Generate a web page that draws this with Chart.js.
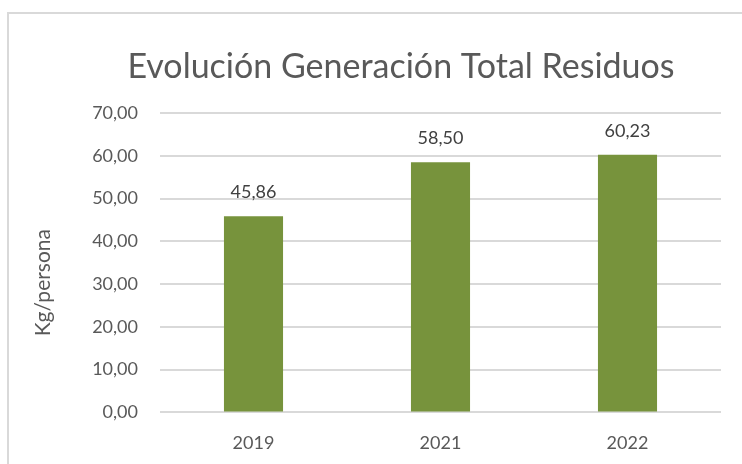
<!DOCTYPE html>
<html>
<head>
<meta charset="utf-8">
<script src="https://cdn.jsdelivr.net/npm/chart.js@4.4.1/dist/chart.umd.min.js"></script>
<style>
  html, body { margin: 0; padding: 0; background: #ffffff; overflow: hidden; }
  #wrap { position: relative; width: 742px; height: 464px; }
  #frame { position: absolute; left: 7px; top: 12px; width: 800px; height: 500px;
           border: 2px solid #d9d9d9; box-sizing: border-box; pointer-events: none; }
  canvas { position: absolute; left: 0; top: 0; }
</style>
</head>
<body>
<div id="wrap">
  <canvas id="c" width="742" height="464"></canvas>
  <div id="frame"></div>
</div>
<script>
const chartTitle = 'Evolución Generación Total Residuos';
const yAxisTitle = 'Kg/persona';
const categories = ['2019', '2021', '2022'];
const values = [45.86, 58.50, 60.23];
const yMin = 0, yMax = 70, yStep = 10;

const fmt = v => v.toFixed(2).replace('.', ',');
const FONT = 'Lato, "Open Sans", "DejaVu Sans", sans-serif';

const textPlugin = {
  id: 'customTexts',
  afterDraw(chart) {
    const ctx = chart.ctx;
    const ca = chart.chartArea;
    ctx.save();
    ctx.font = '400 34px ' + FONT;
    ctx.fillStyle = '#595959';
    ctx.textAlign = 'center';
    ctx.textBaseline = 'middle';
    ctx.fillText(chartTitle, chart.width / 2 + 30, 67);
    ctx.restore();

    ctx.save();
    ctx.translate(43, (ca.top + ca.bottom) / 2 + 20);
    ctx.rotate(-Math.PI / 2);
    ctx.font = '21px ' + FONT;
    ctx.fillStyle = '#595959';
    ctx.textAlign = 'center';
    ctx.textBaseline = 'middle';
    ctx.fillText(yAxisTitle, 0, 0);
    ctx.restore();
  }
};

const labelPlugin = {
  id: 'barLabels',
  afterDatasetsDraw(chart) {
    const ctx = chart.ctx;
    const meta = chart.getDatasetMeta(0);
    ctx.save();
    ctx.font = '18px ' + FONT;
    ctx.fillStyle = '#404040';
    ctx.textAlign = 'center';
    ctx.textBaseline = 'alphabetic';
    meta.data.forEach((bar, i) => {
      ctx.fillText(fmt(values[i]), bar.x, bar.y - 18);
    });
    ctx.restore();
  }
};

new Chart(document.getElementById('c'), {
  type: 'bar',
  data: {
    labels: categories,
    datasets: [{
      data: values,
      backgroundColor: '#77933C',
      borderWidth: 0,
      categoryPercentage: 1,
      barPercentage: 0.316
    }]
  },
  options: {
    responsive: false,
    animation: false,
    devicePixelRatio: 1,
    layout: { padding: { left: 20, right: 21, top: 113, bottom: -10 } },
    plugins: { legend: { display: false }, title: { display: false }, tooltip: { enabled: false } },
    scales: {
      x: {
        grid: { display: false, drawTicks: false },
        border: { display: false },
        ticks: { color: '#595959', font: { family: FONT, size: 18 }, padding: 20 }
      },
      y: {
        min: yMin, max: yMax,
        afterFit(scale) { scale.width = 140; },
        ticks: {
          stepSize: yStep,
          color: '#595959',
          font: { family: FONT, size: 18 },
          padding: 22,
          callback: v => fmt(v)
        },
        grid: { color: '#d9d9d9', lineWidth: 2, drawTicks: false },
        border: { display: false }
      }
    }
  },
  plugins: [textPlugin, labelPlugin]
});
</script>
</body>
</html>
